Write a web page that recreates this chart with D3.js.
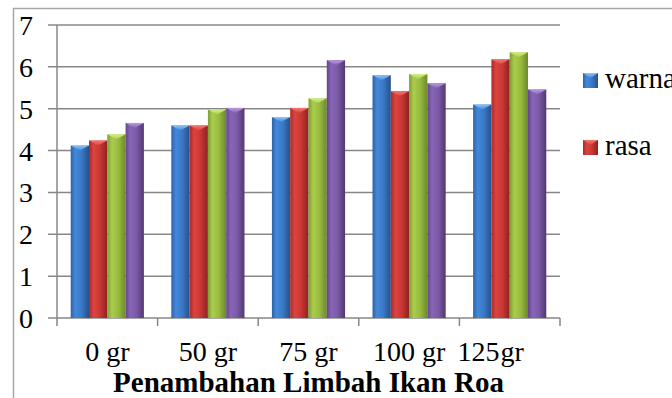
<!DOCTYPE html>
<html>
<head>
<meta charset="utf-8">
<script src="https://cdn.jsdelivr.net/npm/d3@7/dist/d3.min.js"></script>
<style>
  html, body { margin: 0; padding: 0; background: #fff; overflow: hidden; }
  svg { display: block; }
  svg text { font-family: "Liberation Serif", "Times New Roman", Tinos, "DejaVu Serif", serif !important; fill: #000; }
</style>
</head>
<body>
<script>
// Organoleptic scores per level of added Roa fish waste
const categories = ["0 gr", "50 gr", "75 gr", "100 gr", "125 gr"];
const seriesNames = ["warna", "rasa", "aroma", "tekstur"];
const warna   = [4.12, 4.60, 4.80, 5.80, 5.10];
const rasa    = [4.24, 4.60, 5.02, 5.42, 6.18];
const aroma   = [4.39, 4.98, 5.25, 5.83, 6.35];
const tekstur = [4.66, 5.02, 6.16, 5.61, 5.46];
const yTicks  = [0, 1, 2, 3, 4, 5, 6, 7];
const xTitle  = "Penambahan Limbah Ikan Roa";
const legendItems = ["warna", "rasa"];

const seriesValues = [warna, rasa, aroma, tekstur];
const FONT = '"Liberation Serif", "Times New Roman", Tinos, serif';

// Shaded bar colours: [edge-left, highlight, mid, edge-right, cap]
const palette = {
  warna:   ["#2d62a6", "#4388da", "#3a78c6", "#26508a", "#8cc6f8"],
  rasa:    ["#a62b29", "#dc433f", "#c93734", "#8c2220", "#f27a74"],
  aroma:   ["#7d9d33", "#aacd4c", "#98bb40", "#6c892a", "#d6ef8c"],
  tekstur: ["#64458c", "#8866b7", "#7a59a7", "#533870", "#ba9be0"]
};

const W = 672, H = 398;
const svg = d3.select("body").append("svg").attr("width", W).attr("height", H)
  .attr("font-family", FONT);

const plot = { left: 57, right: 560, top: 25, bottom: 318 };

const x0 = d3.scaleBand().domain(categories)
  .range([plot.left, plot.right])
  .paddingInner(1.5 / 5.5).paddingOuter(0.75 / 5.5);
const x1 = d3.scaleBand().domain(seriesNames).range([0, x0.bandwidth()]);
const y = d3.scaleLinear().domain([0, 7]).range([plot.bottom, plot.top]);

// Gradients for the rounded look of bars and legend keys
const defs = svg.append("defs");
seriesNames.forEach((name, i) => {
  const c = palette[name];
  const g = defs.append("linearGradient").attr("id", "bar" + i)
    .attr("x1", "0").attr("x2", "1").attr("y1", "0").attr("y2", "0");
  [[0, c[0]], [0.25, c[1]], [0.6, c[2]], [1, c[3]]].forEach(([o, col]) =>
    g.append("stop").attr("offset", o).attr("stop-color", col));
  const cg = defs.append("linearGradient").attr("id", "cap" + i)
    .attr("x1", "0").attr("x2", "0").attr("y1", "0").attr("y2", "1");
  cg.append("stop").attr("offset", 0).attr("stop-color", c[4]);
  cg.append("stop").attr("offset", 1).attr("stop-color", c[1]);
});

// Outer chart frame (continues past the visible edge)
svg.append("path")
  .attr("d", `M13.5,${H + 5} V8.5 H${W + 5}`)
  .attr("fill", "none").attr("stroke", "#a6a6a6").attr("stroke-width", 1.5);

// Horizontal gridlines with their left tick marks
svg.append("g").selectAll("line").data(yTicks).join("line")
  .attr("x1", plot.left - 9).attr("x2", plot.right)
  .attr("y1", d => y(d)).attr("y2", d => y(d))
  .attr("stroke", "#878787").attr("stroke-width", 1.5);

// Y axis labels
const yAxis = d3.axisLeft(y).tickValues(yTicks).tickFormat(d3.format("d"))
  .tickSize(0).tickPadding(24);
const yg = svg.append("g").attr("transform", `translate(${plot.left},0)`).call(yAxis);
yg.attr("font-family", FONT).attr("font-size", 28);
yg.select(".domain").remove();
yg.selectAll("text").attr("dy", "0.34em");

// Vertical axis line
svg.append("line")
  .attr("x1", plot.left).attr("x2", plot.left)
  .attr("y1", y(7)).attr("y2", y(0))
  .attr("stroke", "#878787").attr("stroke-width", 1.5);

// Category axis: ticks sit on the band boundaries
const boundaries = categories.map(c => x0(c) - x0.step() * x0.paddingOuter())
  .concat([plot.right]);
svg.append("g").selectAll("line").data(boundaries).join("line")
  .attr("x1", d => d).attr("x2", d => d)
  .attr("y1", y(0)).attr("y2", y(0) + 8)
  .attr("stroke", "#878787").attr("stroke-width", 1.5);

// Bars
const groups = svg.append("g").selectAll("g").data(categories).join("g")
  .attr("transform", c => `translate(${x0(c)},0)`);

groups.each(function (cat, ci) {
  const g = d3.select(this);
  seriesNames.forEach((name, si) => {
    const v = seriesValues[si][ci];
    const bx = x1(name), bw = x1.bandwidth();
    const top = y(v);
    g.append("rect")
      .attr("x", bx).attr("y", top)
      .attr("width", bw).attr("height", y(0) - top)
      .attr("fill", `url(#bar${si})`);
    g.append("path")
      .attr("d", `M${bx},${top} L${bx + bw},${top} L${bx + bw / 2},${top + 5} Z`)
      .attr("fill", `url(#cap${si})`);
  });
});

// Category labels
svg.append("g").selectAll("text").data(categories).join("text")
  .attr("x", (c, i) => x0(c) + x0.bandwidth() / 2 + (i === categories.length - 1 ? -19 : 0))
  .attr("y", 361)
  .attr("text-anchor", "middle")
  .attr("font-size", 28)
  .style("word-spacing", (c, i) => i === categories.length - 1 ? "-6px" : null)
  .text(c => c);

// Axis title
svg.append("text")
  .attr("x", (plot.left + plot.right) / 2).attr("y", 392)
  .attr("text-anchor", "middle")
  .attr("font-size", 29).attr("font-weight", "bold")
  .text(xTitle);

// Legend
const legend = svg.append("g").attr("transform", "translate(583,73)");
legendItems.forEach((name, i) => {
  const si = seriesNames.indexOf(name);
  const row = legend.append("g").attr("transform", `translate(0,${i * 67})`);
  row.append("rect").attr("width", 15).attr("height", 15)
    .attr("fill", `url(#bar${si})`);
  row.append("path").attr("d", "M0,0 L15,0 L7.5,5 Z")
    .attr("fill", `url(#cap${si})`);
  row.append("text").attr("x", 22).attr("y", 15)
    .attr("font-size", 29).text(name);
});
</script>
</body>
</html>
